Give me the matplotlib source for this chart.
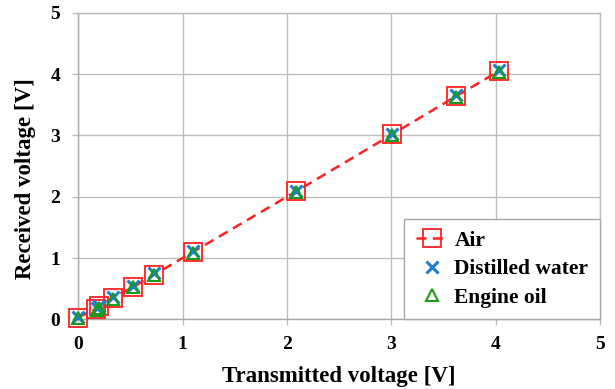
import matplotlib
matplotlib.use("Agg")
import matplotlib.pyplot as plt

air_x = [0.0, 0.17, 0.20, 0.33, 0.53, 0.73, 1.10, 2.09, 3.01, 3.62, 4.03]
air_y = [0.03, 0.17, 0.21, 0.35, 0.53, 0.73, 1.10, 2.09, 3.02, 3.64, 4.05]
water_x = [0.0, 0.18, 0.20, 0.33, 0.53, 0.73, 1.10, 2.09, 3.01, 3.62, 4.03]
water_y = [0.04, 0.19, 0.22, 0.36, 0.55, 0.75, 1.12, 2.10, 3.03, 3.66, 4.06]
oil_x = [0.0, 0.18, 0.20, 0.33, 0.53, 0.73, 1.10, 2.09, 3.01, 3.62, 4.03]
oil_y = [0.02, 0.16, 0.19, 0.33, 0.52, 0.72, 1.09, 2.08, 3.01, 3.63, 4.04]
ticks = [0, 1, 2, 3, 4, 5]

plt.rcParams['font.family'] = ['Liberation Serif', 'DejaVu Serif']
plt.rcParams['font.weight'] = 'bold'

fig = plt.figure(figsize=(6.15, 3.89), dpi=100)
ax = fig.add_axes([0.127, 0.179, 0.849, 0.788])

ax.plot(air_x, air_y, color='#ff2020', linestyle=(0, (4, 2.5)), linewidth=1.8,
        marker='s', markersize=12.5, markerfacecolor='none', markeredgecolor='#ff2020',
        markeredgewidth=1.3, label='Air', zorder=3, clip_on=False)
ax.plot(water_x, water_y, linestyle='none', marker='x', markersize=8,
        markeredgecolor='#1a7fd4', markeredgewidth=2.2, label='Distilled water', zorder=4, clip_on=False)
ax.plot(oil_x, oil_y, linestyle='none', marker='^', markersize=9, markerfacecolor='none',
        markeredgecolor='#1a9a1a', markeredgewidth=1.5, label='Engine oil', zorder=5, clip_on=False)

ax.set_xlim(0, 5)
ax.set_ylim(0, 5)
ax.set_xticks(ticks)
ax.set_yticks(ticks)
ax.set_xticklabels([str(t) for t in ticks], fontsize=14, fontweight='bold')
ax.set_yticklabels([str(t) for t in ticks], fontsize=14, fontweight='bold')
ax.tick_params(axis='both', direction='out', length=4, width=1.0, color='#bdbdbd')
ax.tick_params(axis='y', pad=9)
ax.tick_params(axis='x', pad=8)
ax.grid(True, color='#bdbdbd', linewidth=1.0)
ax.set_axisbelow(True)
for s in ax.spines.values():
    s.set_color('#bdbdbd')
    s.set_linewidth(1.0)
ax.spines['left'].set_color('#a8a8a8')
ax.spines['bottom'].set_color('#a8a8a8')

ax.set_xlabel('Transmitted voltage [V]', fontsize=16.5, fontweight='bold', labelpad=9)
ax.set_ylabel('Received voltage [V]', fontsize=16.5, fontweight='bold', labelpad=10)
ax.yaxis.label.set_y(0.46)

leg = ax.legend(loc='lower right', bbox_to_anchor=(1.0, 0.0),
                prop={'weight': 'bold', 'size': 15.5}, frameon=True, fancybox=False,
                borderpad=0.55, labelspacing=0.38, handlelength=1.5, handletextpad=0.3,
                borderaxespad=0.0)
leg.get_frame().set_edgecolor('#a8a8a8')
leg.get_frame().set_linewidth(1.0)
leg.get_frame().set_alpha(1.0)

fig.savefig('out.png', dpi=100)
